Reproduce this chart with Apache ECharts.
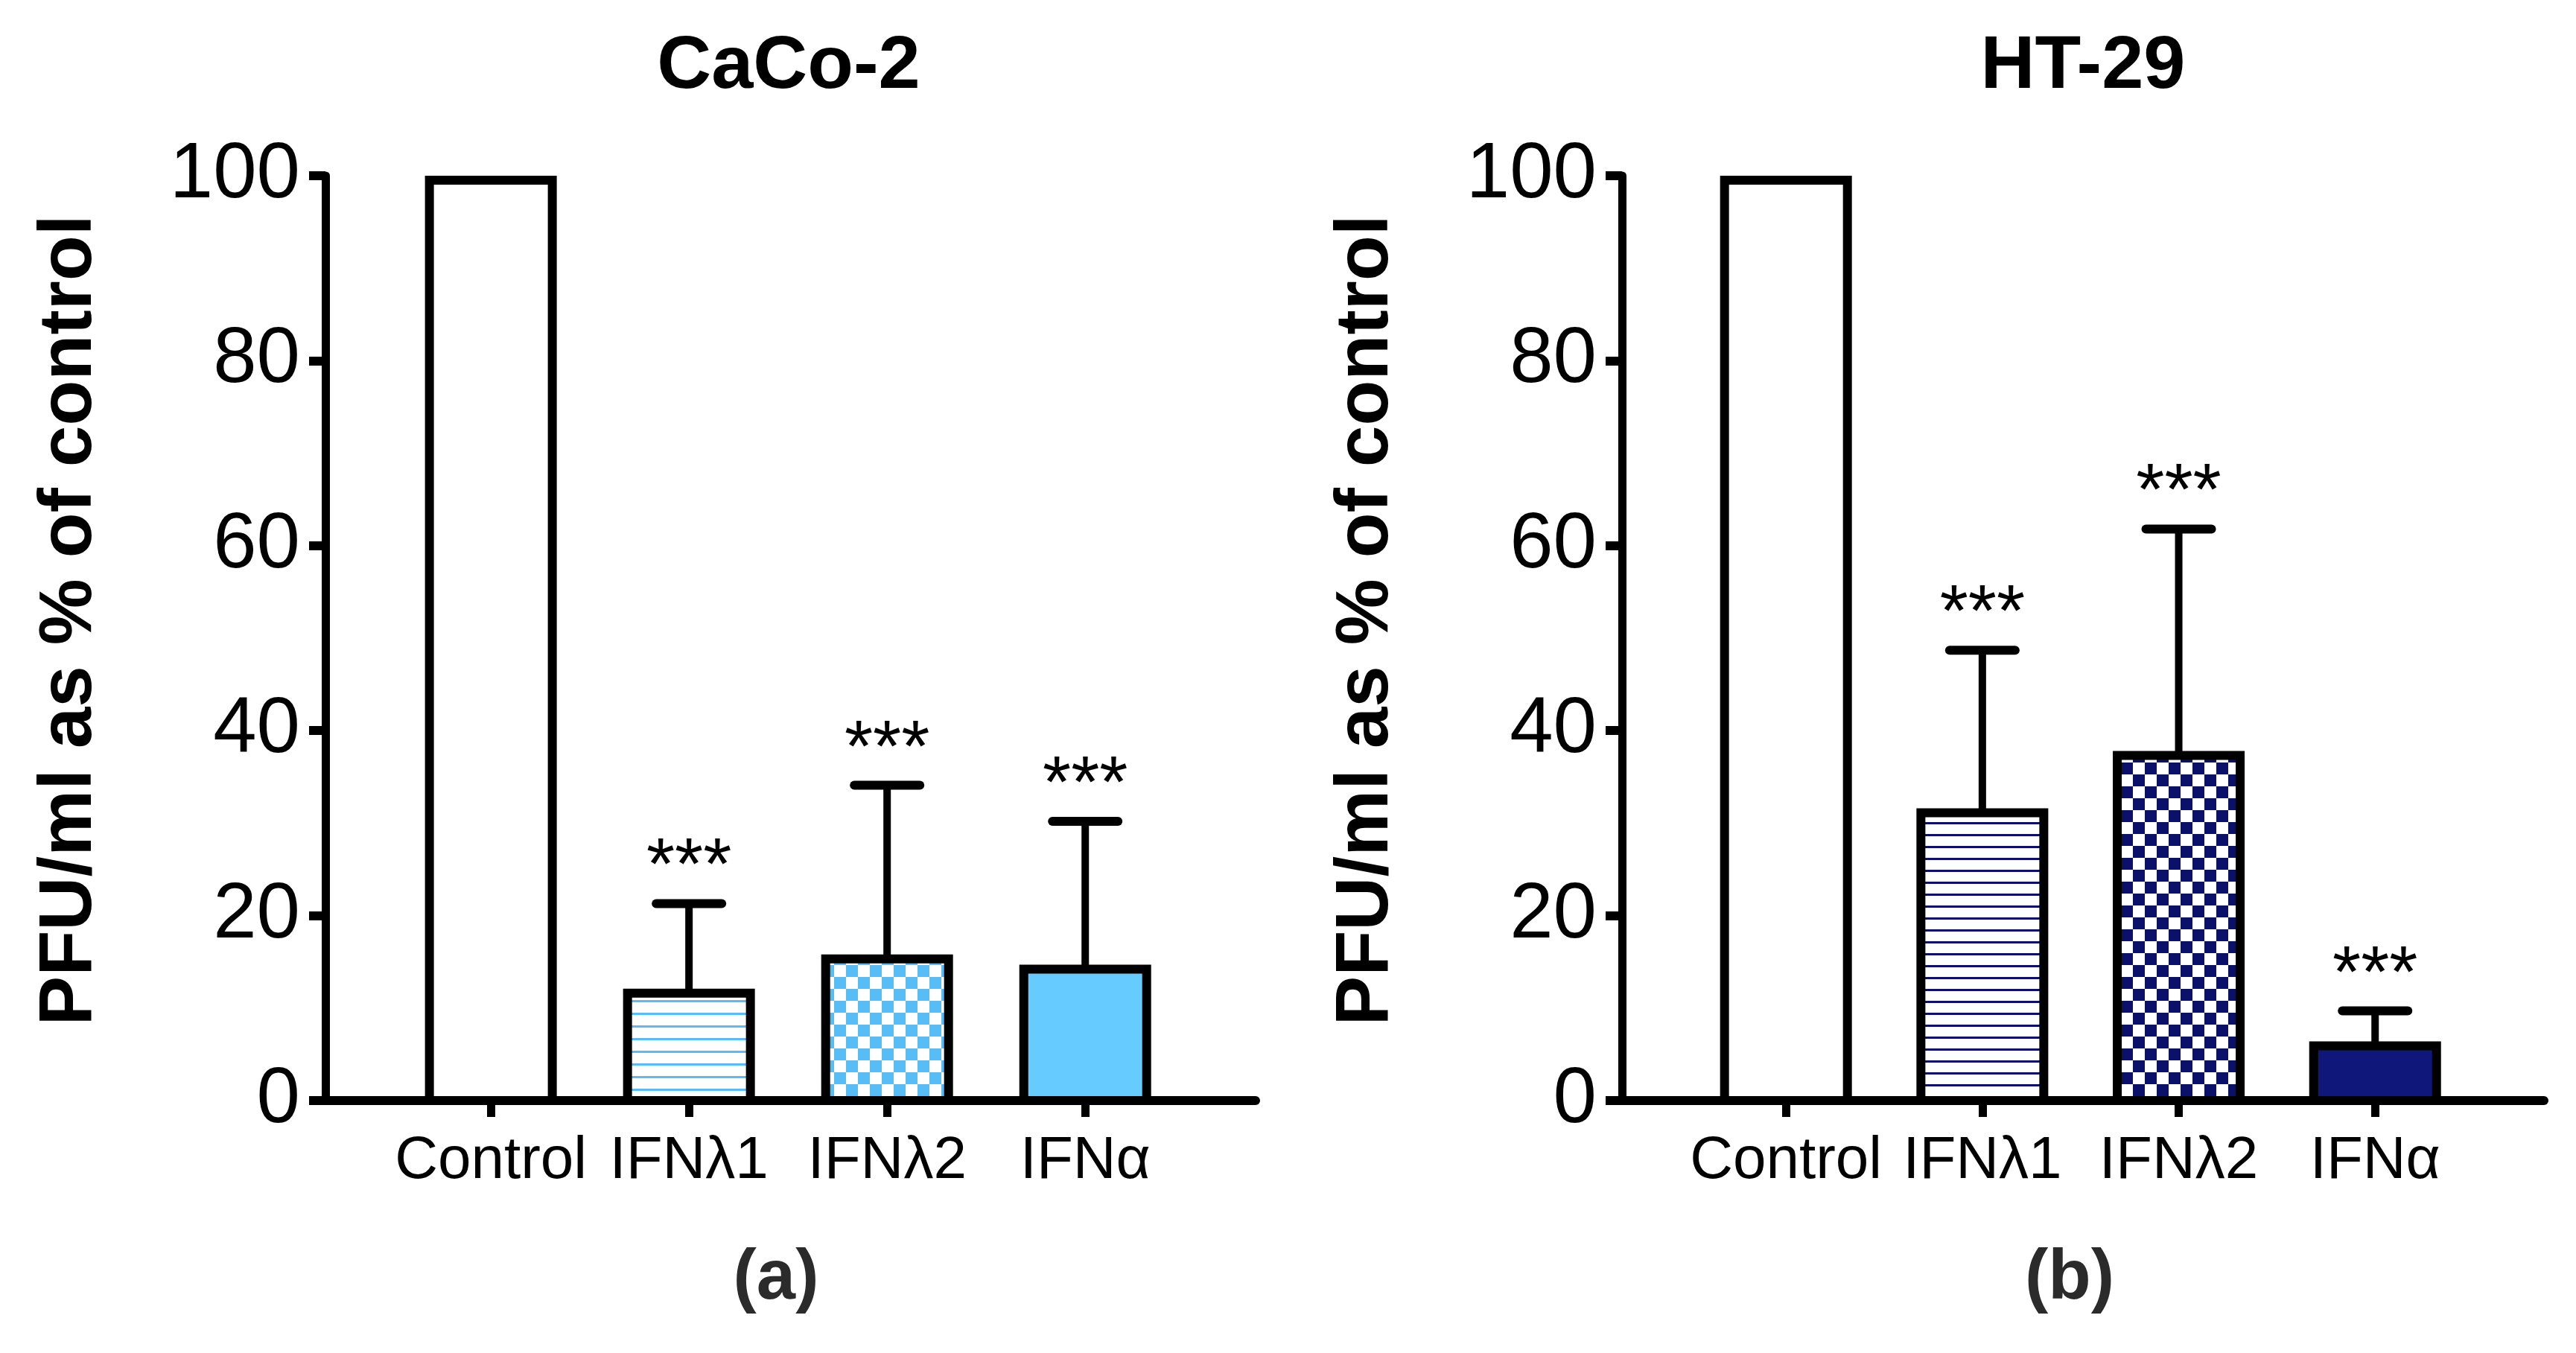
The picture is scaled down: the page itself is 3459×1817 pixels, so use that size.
<!DOCTYPE html>
<html>
<head>
    <meta charset="utf-8">
    <title>PFU/ml as % of control</title>
    <script src="https://cdn.jsdelivr.net/npm/echarts@6/dist/echarts.min.js"></script>
    <style>
        html, body { margin: 0; padding: 0; background: #fff; }
        #main { width: 3459px; height: 1817px; }
    </style>
</head>
<body>
    <div id="main"></div>
    <script type="text/javascript">
        // categories and values
        var categories = ['Control', 'IFNλ1', 'IFNλ2', 'IFNα'];
        var caco2Mean = [100, 12.1, 15.8, 14.7];
        var caco2Upper = [null, 21.3, 34.1, 30.2];
        var ht29Mean = [100, 31.6, 37.8, 6.4];
        var ht29Upper = [null, 48.7, 61.8, 9.7];
        var stars = ['', '***', '***', '***'];
        var panelTitles = ['CaCo-2', 'HT-29'];
        var panelLetters = ['(a)', '(b)'];

        var FONT = '"Liberation Sans", Arial, sans-serif';
        var BORDER = 12;

        // fill patterns (stripes / checkerboard) drawn on small canvases
        function stripes(color, period, thick) {
            var c = document.createElement('canvas');
            c.width = 8; c.height = period;
            var ctx = c.getContext('2d');
            ctx.fillStyle = '#fff';
            ctx.fillRect(0, 0, 8, period);
            ctx.fillStyle = color;
            ctx.fillRect(0, 0, 8, thick);
            return { image: c, repeat: 'repeat' };
        }
        function checker(color, size) {
            var c = document.createElement('canvas');
            c.width = size * 2; c.height = size * 2;
            var ctx = c.getContext('2d');
            ctx.fillStyle = '#fff';
            ctx.fillRect(0, 0, size * 2, size * 2);
            ctx.fillStyle = color;
            ctx.fillRect(0, 0, size, size);
            ctx.fillRect(size, size, size, size);
            return { image: c, repeat: 'repeat' };
        }

        var fillsA = ['#ffffff', stripes('#58bdf7', 17, 3), checker('#56bdf7', 16), '#66ccff'];
        var fillsB = ['#ffffff', stripes('#0b106b', 16, 3), checker('#0b106b', 16), '#10177a'];

        var grids = [
            { left: 437, width: 1249, top: 236, bottom: 339 },
            { left: 2178, width: 1238, top: 236, bottom: 339 }
        ];

        function makeX(i) {
            return {
                type: 'value', gridIndex: i, min: -0.835, max: 3.86,
                splitLine: { show: false },
                axisLine: { lineStyle: { color: '#000', width: 12 } },
                axisTick: { show: true, customValues: [0, 1, 2, 3], length: 22, lineStyle: { color: '#000', width: 11 } },
                axisLabel: {
                    customValues: [0, 1, 2, 3],
                    formatter: function (v) { return categories[Math.round(v)]; },
                    fontFamily: FONT, fontSize: 80, color: '#000', margin: 42
                }
            };
        }
        function makeY(i) {
            return {
                type: 'value', gridIndex: i, min: 0, max: 100, interval: 20,
                name: 'PFU/ml as % of control',
                nameLocation: 'middle', nameGap: 293,
                nameTextStyle: { fontFamily: FONT, fontWeight: 'bold', fontSize: 100, color: '#000', padding: [0, 0, 0, 48] },
                splitLine: { show: false },
                // keep the axis at the grid edge, not at x = 0 of the value x axis
                axisLine: { show: true, onZero: false, lineStyle: { color: '#000', width: 11 } },
                axisTick: { show: true, length: 22, lineStyle: { color: '#000', width: 12 } },
                axisLabel: { fontFamily: FONT, fontSize: 105, color: '#000', margin: 34 }
            };
        }

        // bars as custom rects: outline sits inside the bar top, as in the figure
        function barSeries(i, means, fills) {
            return {
                type: 'custom', xAxisIndex: i, yAxisIndex: i, z: 2,
                data: means.map(function (v, k) { return [k, v]; }),
                renderItem: function (params, api) {
                    var k = api.value(0);
                    var top = api.coord([k, api.value(1)]);
                    var base = api.coord([k, 0]);
                    var w = 165;
                    var y = top[1] + BORDER / 2;
                    return {
                        type: 'rect',
                        shape: { x: top[0] - w / 2, y: y, width: w, height: base[1] - y },
                        style: { fill: fills[k], stroke: '#000', lineWidth: BORDER }
                    };
                }
            };
        }

        function errorSeries(i, means, uppers) {
            var data = [];
            means.forEach(function (v, k) {
                if (uppers[k] != null) data.push([k, v, uppers[k]]);
            });
            return {
                type: 'custom', xAxisIndex: i, yAxisIndex: i,
                data: data, z: 3,
                renderItem: function (params, api) {
                    var k = api.value(0);
                    var lo = api.coord([k, api.value(1)]);
                    var hi = api.coord([k, api.value(2)]);
                    return {
                        type: 'group',
                        children: [
                            { type: 'line', shape: { x1: lo[0], y1: lo[1] + BORDER / 2, x2: hi[0], y2: hi[1] },
                              style: { stroke: '#000', lineWidth: 10 } },
                            { type: 'line', shape: { x1: hi[0] - 44, y1: hi[1], x2: hi[0] + 44, y2: hi[1] },
                              style: { stroke: '#000', lineWidth: 12, lineCap: 'round' } },
                            { type: 'text', x: hi[0], y: hi[1] - 46,
                              style: { text: stars[k], font: '98px ' + FONT, fill: '#000',
                                       align: 'center', verticalAlign: 'middle',
                                       textAlign: 'center', textVerticalAlign: 'middle' } }
                        ]
                    };
                }
            };
        }

        function label(text, x, y, size, color) {
            return {
                type: 'text', x: x, y: y,
                style: { text: text, font: 'bold ' + size + 'px ' + FONT, fill: color,
                         align: 'center', verticalAlign: 'middle',
                         textAlign: 'center', textVerticalAlign: 'middle' }
            };
        }

        var myChart = echarts.init(document.getElementById('main'));
        myChart.setOption({
            backgroundColor: '#fff',
            animation: false,
            grid: grids,
            xAxis: [makeX(0), makeX(1)],
            yAxis: [makeY(0), makeY(1)],
            graphic: [
                label(panelTitles[0], 1059, 90, 101, '#000'),
                label(panelTitles[1], 2797, 90, 101, '#000'),
                label(panelLetters[0], 1042, 1718, 94, '#2b2b2b'),
                label(panelLetters[1], 2779, 1718, 94, '#2b2b2b')
            ],
            series: [
                barSeries(0, caco2Mean, fillsA),
                errorSeries(0, caco2Mean, caco2Upper),
                barSeries(1, ht29Mean, fillsB),
                errorSeries(1, ht29Mean, ht29Upper)
            ]
        });
    </script>
</body>
</html>
